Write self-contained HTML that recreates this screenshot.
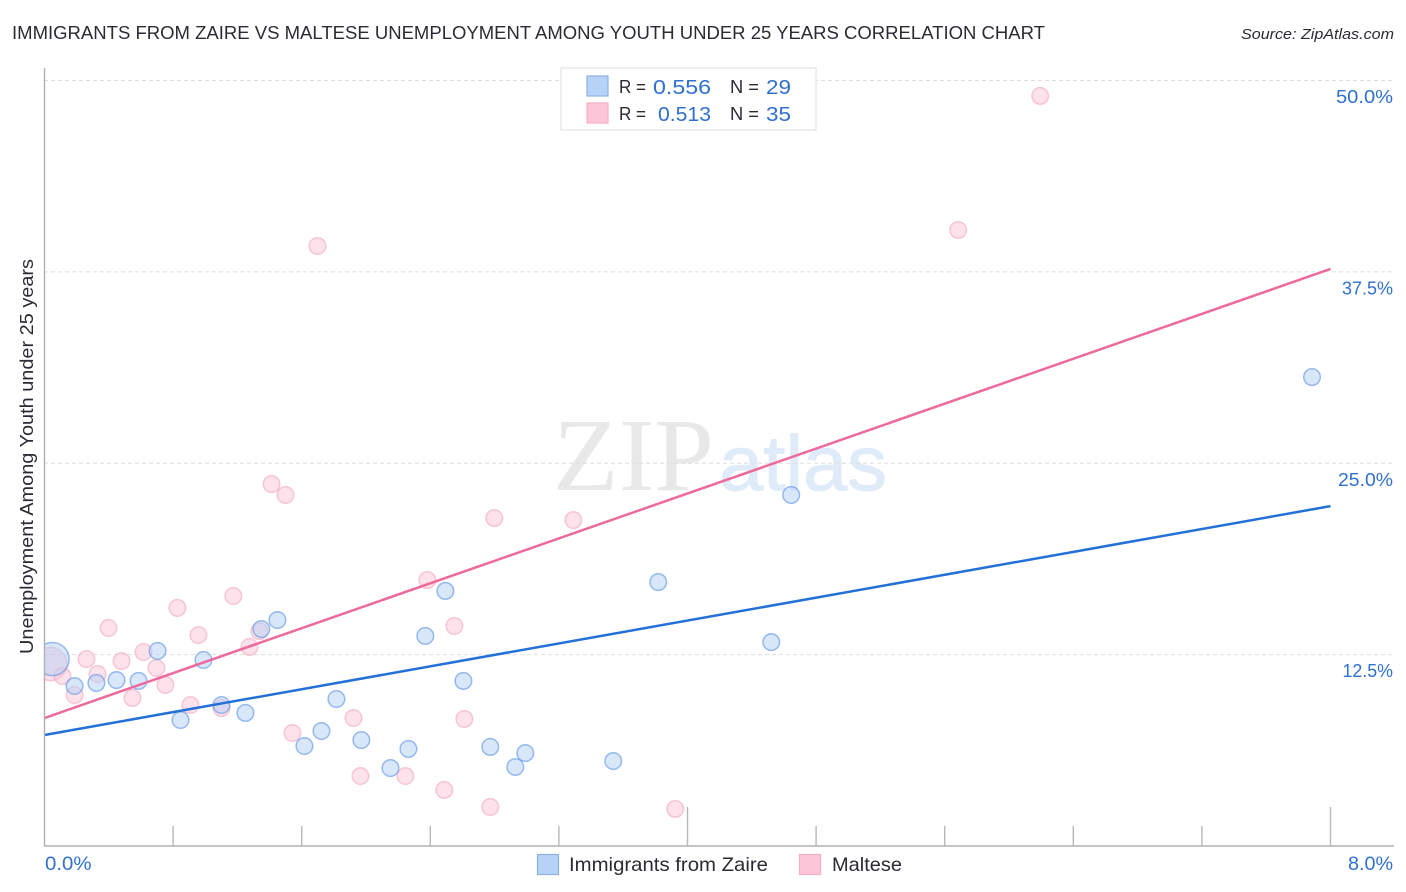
<!DOCTYPE html>
<html lang="en">
<head>
<meta charset="utf-8">
<title>Immigrants from Zaire vs Maltese Unemployment Among Youth Under 25 Years Correlation Chart</title>
<style>
  html, body { margin: 0; padding: 0; background: #fff; }
  body { width: 1406px; height: 892px; overflow: hidden; }
  svg { display: block; font-family: "Liberation Sans", sans-serif; }
  .blue { fill: #3070d0; }
  .dark { fill: #2b2b33; }
</style>
</head>
<body>
<svg id="chart" width="1406" height="892" viewBox="0 0 1406 892" xmlns="http://www.w3.org/2000/svg">
  <defs>
    <clipPath id="plot-clip"><rect x="45" y="60" width="1349" height="786"></rect></clipPath>
  </defs>

  <text class="dark" x="12" y="39" font-size="18.5" textLength="1033" lengthAdjust="spacingAndGlyphs">IMMIGRANTS FROM ZAIRE VS MALTESE UNEMPLOYMENT AMONG YOUTH UNDER 25 YEARS CORRELATION CHART</text>
  <text class="dark" x="1241" y="39" font-size="15" font-style="italic" textLength="153" lengthAdjust="spacingAndGlyphs">Source: ZipAtlas.com</text>

  <g>
    <text x="553" y="490" font-family="'Liberation Serif', serif" font-size="104" fill="#e8e8e8" textLength="161" lengthAdjust="spacingAndGlyphs">ZIP</text>
    <text x="719" y="490" font-size="78" fill="#e0ebfa" stroke="#e0ebfa" stroke-width="1" textLength="168" lengthAdjust="spacingAndGlyphs">atlas</text>
  </g>

  <g id="grid"></g>
  <g id="points" clip-path="url(#plot-clip)"></g>
  <g id="trends"></g>
  <g id="axes"></g>
  <g id="y-labels"></g>
  <g id="x-labels"></g>

  <text class="dark" transform="translate(33,654) rotate(-90)" x="0" y="0" font-size="18" textLength="395" lengthAdjust="spacingAndGlyphs">Unemployment Among Youth under 25 years</text>

  <g>
    <rect x="561" y="68" width="255" height="62" fill="#fff" stroke="#e2e2e2" stroke-width="1.2"></rect>
    <rect x="587" y="76" width="21" height="20" fill="#b7d2f7" stroke="#8db2e6" stroke-width="1.2"></rect>
    <text class="dark" x="619" y="93" font-size="18" textLength="27" lengthAdjust="spacingAndGlyphs">R =</text>
    <text class="blue" x="653" y="94" font-size="20.5" textLength="58" lengthAdjust="spacingAndGlyphs">0.556</text>
    <text class="dark" x="730" y="93" font-size="18" textLength="29" lengthAdjust="spacingAndGlyphs">N =</text>
    <text class="blue" x="766" y="94" font-size="20.5" textLength="25" lengthAdjust="spacingAndGlyphs">29</text>
    <rect x="587" y="103" width="21" height="20" fill="#fcc6d8" stroke="#f5b0c8" stroke-width="1.2"></rect>
    <text class="dark" x="619" y="120" font-size="18" textLength="27" lengthAdjust="spacingAndGlyphs">R =</text>
    <text class="blue" x="658" y="121" font-size="20.5" textLength="53" lengthAdjust="spacingAndGlyphs">0.513</text>
    <text class="dark" x="730" y="120" font-size="18" textLength="29" lengthAdjust="spacingAndGlyphs">N =</text>
    <text class="blue" x="766" y="121" font-size="20.5" textLength="25" lengthAdjust="spacingAndGlyphs">35</text>
  </g>

  <g>
    <rect x="537.5" y="854.5" width="21" height="20" fill="#b7d2f7" stroke="#8db2e6" stroke-width="1.2"></rect>
    <text class="dark" x="569" y="871" font-size="19.5" textLength="199" lengthAdjust="spacingAndGlyphs">Immigrants from Zaire</text>
    <rect x="799.5" y="854.5" width="21" height="20" fill="#fcc6d8" stroke="#f5b0c8" stroke-width="1.2"></rect>
    <text class="dark" x="832" y="871" font-size="19.5" textLength="70" lengthAdjust="spacingAndGlyphs">Maltese</text>
  </g>
</svg>

<script>
const xTickValues = [0.8, 1.6, 2.4, 3.2, 4.0, 4.8, 5.6, 6.4, 7.2, 8.0];
const xMajorTicks = [4.0, 8.0];
const xTickLabels = ["0.0%", "8.0%"];
const xLabelValues = [0, 8];
const yTickValues = [12.5, 25, 37.5, 50];
const yTickLabels = ["12.5%", "25.0%", "37.5%", "50.0%"];

const zaireX = [0.05, 0.187, 0.323, 0.448, 0.585, 0.703, 0.846, 0.989, 1.101, 1.25, 1.349, 1.449, 1.617, 1.723, 1.816, 1.971, 2.152, 2.264, 2.369, 2.494, 2.606, 2.773, 2.929, 2.991, 3.538, 3.818, 4.521, 4.645, 7.885];
const zaireY = [12.21, 10.45, 10.65, 10.84, 10.78, 12.74, 8.23, 12.15, 9.21, 8.69, 14.17, 14.76, 6.53, 7.51, 9.6, 6.92, 5.09, 6.34, 13.72, 16.66, 10.78, 6.47, 5.16, 6.07, 5.55, 17.24, 13.32, 22.93, 30.63];
const zaireWeight = [4, 1, 1, 1, 1, 1, 1, 1, 1, 1, 1, 1, 1, 1, 1, 1, 1, 1, 1, 1, 1, 1, 1, 1, 1, 1, 1, 1, 1];

const malteseX = [0.037, 0.112, 0.187, 0.261, 0.33, 0.398, 0.479, 0.547, 0.616, 0.696, 0.752, 0.827, 0.908, 0.958, 1.101, 1.175, 1.275, 1.337, 1.412, 1.499, 1.542, 1.698, 1.922, 1.965, 2.245, 2.382, 2.487, 2.55, 2.612, 2.773, 2.798, 3.29, 3.924, 5.684, 6.194];
const malteseY = [11.89, 11.1, 9.86, 12.21, 11.23, 14.24, 12.08, 9.67, 12.67, 11.63, 10.52, 15.55, 9.21, 13.78, 9.01, 16.33, 13.0, 14.04, 23.64, 22.93, 7.38, 39.19, 8.36, 4.57, 4.57, 17.37, 3.66, 14.37, 8.3, 2.55, 21.42, 21.29, 2.42, 40.24, 48.99];
const malteseWeight = [4, 1, 1, 1, 1, 1, 1, 1, 1, 1, 1, 1, 1, 1, 1, 1, 1, 1, 1, 1, 1, 1, 1, 1, 1, 1, 1, 1, 1, 1, 1, 1, 1, 1, 1];

const trendX = [0, 8];
const zaireTrendY = [7.25, 22.2];
const malteseTrendY = [8.36, 37.69];

const SVGNS = "http://www.w3.org/2000/svg";
const x0 = 44.5, x1 = 1330.5, y0 = 846, y50 = 80.5;
const xScale = function (v) { return x0 + (v / 8) * (x1 - x0); };
const yScale = function (v) { return y0 - (v / 50) * (y0 - y50); };
const rScale = function (w) { return 8.3 * Math.sqrt(w); };

function labelWidth(s) {
  let total = 0;
  for (const ch of s) {
    if (ch === "%") total += 18;
    else if (ch === ".") total += 4.5;
    else if (ch === "0") total += 12;
    else if (ch === "1") total += 7.5;
    else if (ch === "2") total += 10;
    else if (ch === "3") total += 9.5;
    else if (ch === "5") total += 10.5;
    else if (ch === "7") total += 8.5;
    else total += 10.5;
  }
  return total;
}

function make(tag, parent, attrs) {
  const el = document.createElementNS(SVGNS, tag);
  Object.keys(attrs).forEach(function (k) { el.setAttribute(k, attrs[k]); });
  parent.appendChild(el);
  return el;
}

const grid = document.getElementById("grid");
yTickValues.forEach(function (v) {
  const line = make("line", grid, { x1: 44, x2: 1394, y1: yScale(v), y2: yScale(v), stroke: "#dedede", "stroke-width": 1, "stroke-dasharray": "4 3" });
  
  
});

function drawSeries(xs, ys, ws, fill, stroke, strokeOpacity, name) {
  const group = document.getElementById("points");
  xs.forEach(function (v, i) {
    const c = make("circle", group, {
      cx: xScale(v), cy: yScale(ys[i]), r: rScale(ws[i]),
      fill: fill, "fill-opacity": 0.5, stroke: stroke, "stroke-opacity": strokeOpacity, "stroke-width": 1.5
    });
    
    
  });
}
drawSeries(malteseX, malteseY, malteseWeight, "#fbc6d8", "#f0a0bc", 0.55, "point-maltese");
drawSeries(zaireX, zaireY, zaireWeight, "#b4cff6", "#5a93e4", 0.6, "point-zaire");

const trends = document.getElementById("trends");
const malteseLine = make("line", trends, { x1: xScale(trendX[0]), y1: yScale(malteseTrendY[0]), x2: xScale(trendX[1]), y2: yScale(malteseTrendY[1]), stroke: "#ec6a9c", "stroke-width": 2.5 });


const zaireLine = make("line", trends, { x1: xScale(trendX[0]), y1: yScale(zaireTrendY[0]), x2: xScale(trendX[1]), y2: yScale(zaireTrendY[1]), stroke: "#2370d8", "stroke-width": 2.5 });



const axes = document.getElementById("axes");
const yAxis = make("line", axes, { x1: 44.5, x2: 44.5, y1: 68, y2: 846.5, stroke: "#b0b0b0", "stroke-width": 1.4 });


const xAxis = make("line", axes, { x1: 44, x2: 1394, y1: 846, y2: 846, stroke: "#b0b0b0", "stroke-width": 1.4 });


xTickValues.forEach(function (v) {
  const major = xMajorTicks.indexOf(v) >= 0;
  const tick = make("line", axes, { x1: xScale(v), x2: xScale(v), y1: major ? 807 : 826, y2: 846, stroke: "#b8b8b8", "stroke-width": 1.4 });
  
  
});

const yLabels = document.getElementById("y-labels");
yTickValues.forEach(function (v, i) {
  const t = make("text", yLabels, {
    x: 1393 - labelWidth(yTickLabels[i]), y: yScale(v) + 22.5, "font-size": 18.5, fill: "#3070d0",
    textLength: labelWidth(yTickLabels[i]), lengthAdjust: "spacingAndGlyphs"
  });
  t.textContent = yTickLabels[i];
  
  
});

const xLabels = document.getElementById("x-labels");
xLabelValues.forEach(function (v, i) {
  const w = labelWidth(xTickLabels[i]);
  const t = make("text", xLabels, {
    x: v === 0 ? 45 : 1393 - w, y: 870, "font-size": 19, fill: "#3070d0",
    textLength: w, lengthAdjust: "spacingAndGlyphs"
  });
  t.textContent = xTickLabels[i];
  
  
});
</script>
</body>
</html>
